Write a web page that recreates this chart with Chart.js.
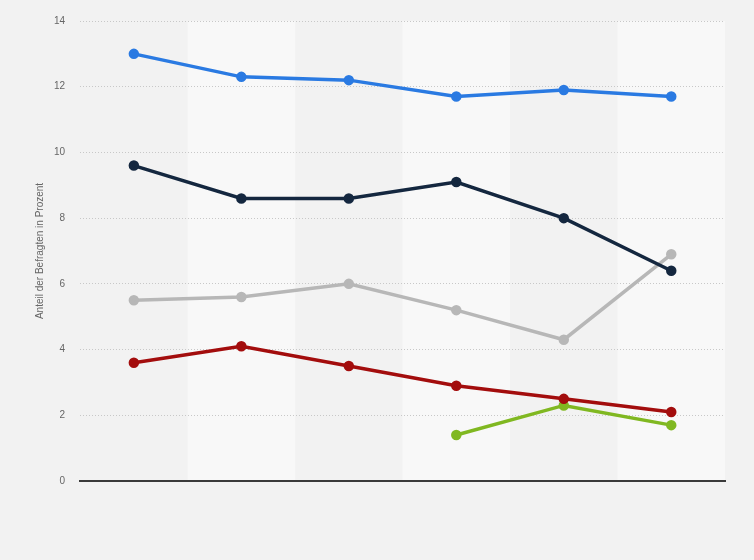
<!DOCTYPE html>
<html>
<head>
<meta charset="utf-8">
<script src="https://cdn.jsdelivr.net/npm/chart.js@4"></script>
<style>
  html, body { margin: 0; padding: 0; background: #f2f2f2; }
  #wrap { width: 754px; height: 560px; }
</style>
</head>
<body>
<div id="wrap"><canvas id="chart"></canvas></div>
<script>
// Kategorien (ohne Beschriftung im Original)
const categories = ['1', '2', '3', '4', '5', '6'];

// Werte je Reihe (Anteil in Prozent)
const blueValues = [13.0, 12.3, 12.2, 11.7, 11.9, 11.7];
const navyValues = [9.6, 8.6, 8.6, 9.1, 8.0, 6.4];
const greyValues = [5.5, 5.6, 6.0, 5.2, 4.3, 6.9];
const redValues = [3.6, 4.1, 3.5, 2.9, 2.5, 2.1];
const greenValues = [null, null, null, 1.4, 2.3, 1.7];

const yTicks = [0, 2, 4, 6, 8, 10, 12, 14];

// abwechselnde Spaltenhintergründe
const bandPlugin = {
    id: 'bands',
    beforeDraw(chart) {
        const { ctx, chartArea, scales } = chart;
        const w = chartArea.width / categories.length;
        ctx.save();
        ctx.fillStyle = '#f8f8f8';
        categories.forEach((c, i) => {
            if (i % 2 === 1) {
                const cx = scales.x.getPixelForValue(i);
                ctx.fillRect(cx - w / 2, chartArea.top, w, chartArea.height);
            }
        });
        ctx.restore();
    }
};

function series(data, color) {
    return {
        data: data,
        borderColor: color,
        backgroundColor: color,
        borderWidth: 3.5,
        pointRadius: 3.5,
        pointHoverRadius: 5,
        tension: 0,
        spanGaps: false,
    };
}

new Chart(document.getElementById('chart'), {
    type: 'line',
    data: {
        labels: categories,
        datasets: [
            series(blueValues, '#2a7ae2'),
            series(navyValues, '#14273f'),
            series(greyValues, '#b7b7b7'),
            series(redValues, '#a30d0d'),
            series(greenValues, '#80b821'),
        ],
    },
    options: {
        responsive: true,
        maintainAspectRatio: false,
        animation: false,
        layout: { padding: { left: 30, right: 29, top: 20, bottom: 79 } },
        plugins: {
            legend: { display: false },
            tooltip: { enabled: false },
        },
        scales: {
            x: {
                offset: true,
                ticks: { display: false },
                grid: { display: false, drawTicks: false },
                border: { display: true, color: '#3a3a3a', width: 2 },
            },
            y: {
                min: 0,
                max: 14,
                afterBuildTicks(axis) {
                    axis.ticks = yTicks.map(v => ({ value: v }));
                },
                ticks: {
                    color: '#666666',
                    font: { family: 'Arial, "Liberation Sans", sans-serif', size: 10 },
                    padding: 15,
                },
                grid: {
                    color: '#c8c8c8',
                    drawTicks: false,
                    lineWidth: 1,
                },
                border: { display: false, dash: [1, 2] },
                title: {
                    display: true,
                    text: 'Anteil der Befragten in Prozent',
                    color: '#666666',
                    font: { family: 'Arial, "Liberation Sans", sans-serif', size: 10 },
                    padding: { top: 4, bottom: -7 },
                },
            },
        },
    },
    plugins: [bandPlugin],
});
</script>
</body>
</html>
